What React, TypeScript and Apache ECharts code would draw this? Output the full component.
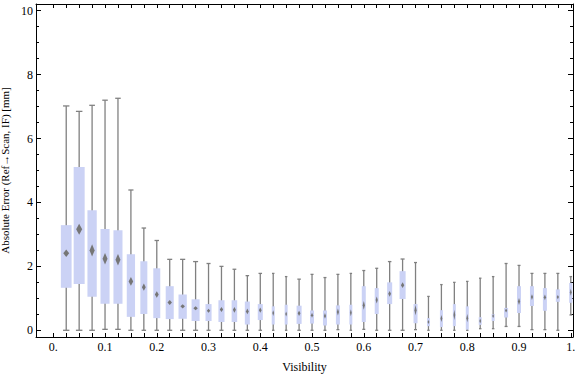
import React, { useEffect, useRef } from 'react';
import * as echarts from 'echarts';

// Bin positions (visibility)
const visibility = [
  0.025, 0.05, 0.075, 0.1, 0.125, 0.15, 0.175, 0.2, 0.225, 0.25,
  0.275, 0.3, 0.325, 0.35, 0.375, 0.4, 0.425, 0.45, 0.475, 0.5,
  0.525, 0.55, 0.575, 0.6, 0.625, 0.65, 0.675, 0.7, 0.725, 0.75,
  0.775, 0.8, 0.825, 0.85, 0.875, 0.9, 0.925, 0.95, 0.975, 1.0,
];
const whiskerLow = [
  0, 0, 0, 0.03, 0.03, 0, 0, 0, 0, 0,
  0, 0, 0, 0, 0, 0, 0, 0, 0, 0,
  0, 0.02, 0, 0.03, 0, 0, 0, 0.02, 0, 0,
  0, 0, 0.05, 0.05, 0.12, 0.12, 0.02, 0.02, 0, 0.48,
];
const quartile1 = [
  1.33, 1.45, 1.05, 0.83, 0.83, 0.42, 0.51, 0.38, 0.35, 0.36,
  0.29, 0.29, 0.26, 0.26, 0.18, 0.32, 0.18, 0.18, 0.2, 0.21,
  0.15, 0.18, 0.18, 0.26, 0.51, 0.82, 0.98, 0.22, 0.13, 0.1,
  0.13, 0.02, 0.17, 0.29, 0.4, 0.54, 0.76, 0.61, 0.89, 0.86,
];
const median = [
  2.41, 3.16, 2.5, 2.24, 2.21, 1.53, 1.35, 1.12, 0.87, 0.75,
  0.69, 0.61, 0.65, 0.64, 0.59, 0.63, 0.54, 0.51, 0.53, 0.47,
  0.45, 0.57, 0.55, 0.78, 0.95, 1.14, 1.41, 0.63, 0.26, 0.37,
  0.48, 0.38, 0.29, 0.45, 0.62, 0.9, 1.04, 1.03, 1.04, 1.19,
];
const quartile3 = [
  3.29, 5.11, 3.76, 3.17, 3.13, 2.38, 2.16, 1.94, 1.38, 1.12,
  0.97, 0.82, 0.94, 0.94, 0.9, 0.82, 0.75, 0.8, 0.77, 0.62,
  0.62, 0.78, 0.8, 1.38, 1.32, 1.5, 1.85, 0.82, 0.38, 0.63,
  0.82, 0.75, 0.41, 0.51, 0.7, 1.38, 1.38, 1.32, 1.28, 1.48,
];
const whiskerHigh = [
  7.02, 6.85, 7.04, 7.2, 7.26, 4.39, 3.2, 2.81, 2.22, 2.22,
  2.15, 2.09, 2.0, 1.91, 1.71, 1.78, 1.78, 1.68, 1.6, 1.75,
  1.65, 1.75, 1.78, 1.87, 1.94, 2.15, 2.23, 2.12, 1.06, 1.43,
  1.5, 1.53, 1.63, 1.68, 2.09, 2.03, 1.78, 1.78, 1.78, 1.68,
];
// half-height of the median confidence diamond
const medianCIHalf = [
  0.115, 0.17, 0.19, 0.18, 0.18, 0.14, 0.115, 0.1, 0.08, 0.065,
  0.065, 0.065, 0.08, 0.09, 0.09, 0.08, 0.09, 0.08, 0.08, 0.08,
  0.09, 0.11, 0.11, 0.14, 0.11, 0.09, 0.09, 0.16, 0.065, 0.11,
  0.16, 0.13, 0.08, 0.065, 0.065, 0.11, 0.09, 0.09, 0.065, 0.11,
];
// relative box width (fraction of bin spacing, reflects sample size)
const relativeWidth = [
  0.83, 0.85, 0.72, 0.7, 0.7, 0.64, 0.54, 0.54, 0.62, 0.64,
  0.62, 0.47, 0.47, 0.43, 0.39, 0.39, 0.23, 0.23, 0.39, 0.31,
  0.31, 0.31, 0.23, 0.31, 0.31, 0.39, 0.47, 0.31, 0.23, 0.23,
  0.23, 0.23, 0.23, 0.23, 0.31, 0.31, 0.31, 0.31, 0.31, 0.25,
];

const xLabelValues = [0, 0.1, 0.2, 0.3, 0.4, 0.5, 0.6, 0.7, 0.8, 0.9, 1];
const xTickValues = [
  0, 0.025, 0.05, 0.075, 0.1, 0.125, 0.15, 0.175, 0.2, 0.225, 0.25,
  0.275, 0.3, 0.325, 0.35, 0.375, 0.4, 0.425, 0.45, 0.475, 0.5,
  0.525, 0.55, 0.575, 0.6, 0.625, 0.65, 0.675, 0.7, 0.725, 0.75,
  0.775, 0.8, 0.825, 0.85, 0.875, 0.9, 0.925, 0.95, 0.975, 1.0,
];
const yMajorValues = [0, 2, 4, 6, 8, 10];
const yMinorValues = [
  0.5, 1, 1.5, 2.5, 3, 3.5, 4.5, 5, 5.5, 6.5, 7, 7.5, 8.5, 9, 9.5,
];

const X_MIN = -0.0334;
const X_MAX = 1.0043;
const Y_MIN = -0.21;
const Y_MAX = 10.21;
const BIN = 0.025;

const FONT = "'Liberation Serif', 'DejaVu Serif', serif";

export default function App() {
  const ref = useRef<HTMLDivElement>(null);

  useEffect(() => {
    if (!ref.current) return;
    const chart = echarts.init(ref.current, undefined, { renderer: 'svg' });

    const data = visibility.map((v, i) => [
      v, whiskerLow[i], quartile1[i], median[i], quartile3[i], whiskerHigh[i],
      medianCIHalf[i], relativeWidth[i],
    ]);

    const renderItem = (_params: any, api: any) => {
      const x = api.value(0);
      const lo = api.value(1);
      const q1 = api.value(2);
      const med = api.value(3);
      const q3 = api.value(4);
      const hi = api.value(5);
      const ci = api.value(6);
      const rw = api.value(7);
      const spacing = api.size([BIN, 0])[0];
      const w = spacing * rw;
      const pLo = api.coord([x, lo]);
      const cx = pLo[0];
      const yLo = pLo[1];
      const yQ1 = api.coord([x, q1])[1];
      const yMed = api.coord([x, med])[1];
      const yQ3 = api.coord([x, q3])[1];
      const yHi = api.coord([x, hi])[1];
      const yCiT = api.coord([x, med + ci])[1];
      const yCiB = api.coord([x, med - ci])[1];
      const capW = 0.5 * w + 1;
      const dW = Math.max(1.8, 0.55 * w);
      const stroke = { stroke: '#808080', lineWidth: 1.3 };
      return {
        type: 'group',
        children: [
          { type: 'line', shape: { x1: cx, y1: yLo, x2: cx, y2: yHi }, style: stroke },
          { type: 'line', shape: { x1: cx - capW / 2, y1: yLo, x2: cx + capW / 2, y2: yLo }, style: stroke },
          { type: 'line', shape: { x1: cx - capW / 2, y1: yHi, x2: cx + capW / 2, y2: yHi }, style: stroke },
          {
            type: 'rect',
            shape: { x: cx - w / 2, y: yQ3, width: w, height: yQ1 - yQ3 },
            style: { fill: '#cbd2f5' },
          },
          {
            type: 'polygon',
            shape: { points: [[cx, yCiT], [cx + dW / 2, yMed], [cx, yCiB], [cx - dW / 2, yMed]] },
            style: { fill: '#767676' },
          },
        ],
      };
    };

    const xBase = {
      type: 'value',
      min: X_MIN,
      max: X_MAX,
      splitLine: { show: false },
      axisLine: { show: true, onZero: false, lineStyle: { color: '#000', width: 1 } },
    };
    const yBase = {
      type: 'value',
      min: Y_MIN,
      max: Y_MAX,
      splitLine: { show: false },
      axisLine: { show: true, onZero: false, lineStyle: { color: '#000', width: 1 } },
    };
    const tickStyle = { color: '#000', width: 1 };

    chart.setOption({
      animation: false,
      grid: { left: 36, right: 3, top: 4, bottom: 40, containLabel: false, outerBoundsMode: 'none' },
      xAxis: [
        {
          ...xBase,
          position: 'bottom',
          axisTick: { show: true, inside: true, length: 4, customValues: xTickValues, lineStyle: tickStyle },
          axisLabel: {
            customValues: xLabelValues,
            formatter: (v: number) => (v === 0 ? '0.' : v === 1 ? '1.' : v.toFixed(1)),
            margin: 4,
            color: '#000',
            fontFamily: FONT,
            fontSize: 12,
          },
          name: 'Visibility',
          nameLocation: 'middle',
          nameGap: 24,
          nameTextStyle: { color: '#000', fontFamily: FONT, fontSize: 12 },
        },
        {
          ...xBase,
          position: 'top',
          axisTick: { show: true, inside: true, length: 4, customValues: xTickValues, lineStyle: tickStyle },
          axisLabel: { show: false },
        },
      ],
      yAxis: [
        {
          ...yBase,
          position: 'left',
          axisTick: { show: true, inside: true, length: 5, customValues: yMajorValues, lineStyle: tickStyle },
          axisLabel: {
            customValues: yMajorValues,
            formatter: (v: number) => String(v),
            margin: 3,
            color: '#000',
            fontFamily: FONT,
            fontSize: 12,
          },
          name: 'Absolute Error (Ref\u2192Scan, IF) [mm]',
          nameLocation: 'middle',
          nameGap: 17,
          nameRotate: 90,
          nameTextStyle: { color: '#000', fontFamily: FONT, fontSize: 11 },
        },
        {
          ...yBase,
          position: 'left',
          axisLine: { show: false, onZero: false },
          axisTick: { show: true, inside: true, length: 3, customValues: yMinorValues, lineStyle: tickStyle },
          axisLabel: { show: false },
        },
        {
          ...yBase,
          position: 'right',
          axisTick: { show: true, inside: true, length: 5, customValues: yMajorValues, lineStyle: tickStyle },
          axisLabel: { show: false },
        },
        {
          ...yBase,
          position: 'right',
          axisLine: { show: false, onZero: false },
          axisTick: { show: true, inside: true, length: 3, customValues: yMinorValues, lineStyle: tickStyle },
          axisLabel: { show: false },
        },
      ],
      series: [
        {
          type: 'custom',
          xAxisIndex: 0,
          yAxisIndex: 0,
          clip: true,
          encode: { x: 0, y: [1, 2, 3, 4, 5] },
          renderItem,
          data,
        },
      ],
    });

    return () => chart.dispose();
  }, []);

  return (
    <div
      ref={ref}
      style={{ position: 'absolute', left: 0, top: 0, width: 576, height: 377, background: '#fff' }}
    />
  );
}
